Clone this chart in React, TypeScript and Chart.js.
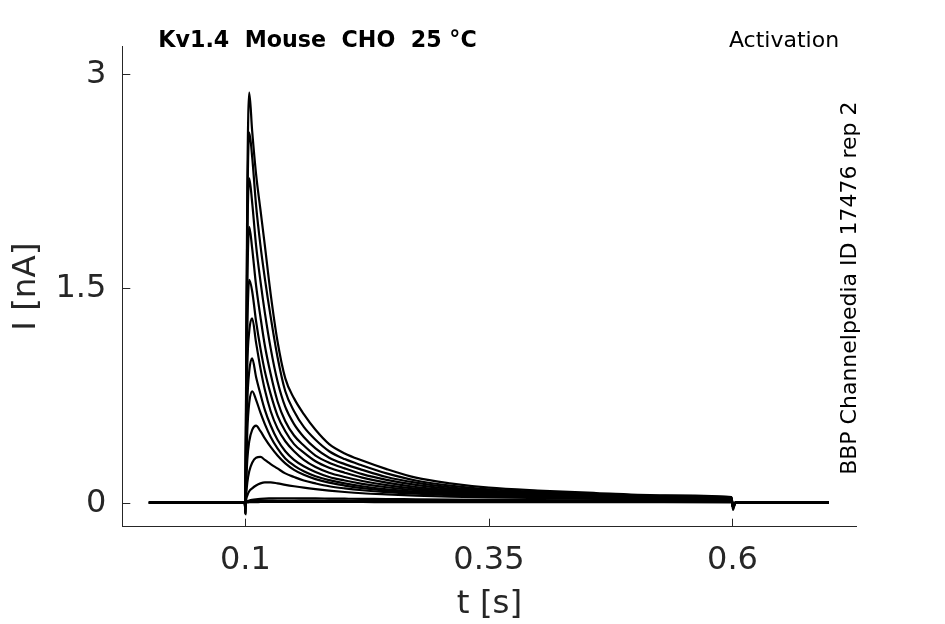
import { useEffect, useRef } from "react";
import { Chart, registerables, type Plugin } from "chart.js";

Chart.register(...registerables);

// sample times (s) shared by every sweep
const timeS = [
  0.001, 0.0995, 0.1, 0.1008, 0.102, 0.104, 0.107, 0.111, 0.1155, 0.12, 0.126,
  0.133, 0.141, 0.15, 0.16, 0.172, 0.186, 0.202, 0.22, 0.245, 0.275, 0.31,
  0.35, 0.4, 0.46, 0.53, 0.599, 0.6005, 0.603, 0.65, 0.699,
];

// current (nA), one array per voltage step
const sweep1 = [0, 0, -0.08, 0.9, 2.2, 2.87, 2.6, 2.3, 2.05, 1.8, 1.46, 1.13, 0.87, 0.73, 0.62, 0.51, 0.41, 0.345, 0.295, 0.235, 0.175, 0.135, 0.105, 0.085, 0.068, 0.052, 0.04, -0.05, 0, 0, 0];
const sweep2 = [0, 0, -0.07, 0.8, 2.0, 2.59, 2.42, 2.08, 1.8, 1.57, 1.3, 1.02, 0.78, 0.64, 0.53, 0.44, 0.36, 0.305, 0.26, 0.205, 0.155, 0.12, 0.094, 0.076, 0.062, 0.048, 0.037, -0.03, 0, 0, 0];
const sweep3 = [0, 0, -0.07, 0.7, 1.8, 2.27, 2.1, 1.8, 1.55, 1.33, 1.08, 0.85, 0.67, 0.55, 0.46, 0.38, 0.315, 0.27, 0.23, 0.18, 0.14, 0.108, 0.085, 0.07, 0.057, 0.045, 0.034, -0.03, 0, 0, 0];
const sweep4 = [0, 0, -0.06, 0.6, 1.5, 1.93, 1.78, 1.52, 1.3, 1.1, 0.9, 0.71, 0.57, 0.47, 0.4, 0.33, 0.28, 0.24, 0.2, 0.16, 0.125, 0.098, 0.078, 0.064, 0.052, 0.042, 0.032, -0.03, 0, 0, 0];
const sweep5 = [0, 0, -0.06, 0.5, 1.2, 1.56, 1.48, 1.27, 1.08, 0.92, 0.76, 0.61, 0.5, 0.41, 0.35, 0.29, 0.245, 0.21, 0.175, 0.14, 0.11, 0.088, 0.071, 0.058, 0.048, 0.039, 0.03, -0.03, 0, 0, 0];
const sweep6 = [0, 0, -0.05, 0.4, 0.95, 1.2, 1.29, 1.12, 0.94, 0.79, 0.64, 0.52, 0.43, 0.36, 0.3, 0.25, 0.21, 0.18, 0.152, 0.123, 0.098, 0.08, 0.065, 0.054, 0.045, 0.036, 0.028, -0.03, 0, 0, 0];
const sweep7 = [0, 0, -0.05, 0.3, 0.7, 0.92, 1.01, 0.88, 0.76, 0.65, 0.54, 0.44, 0.36, 0.3, 0.255, 0.215, 0.18, 0.155, 0.132, 0.108, 0.088, 0.072, 0.06, 0.05, 0.041, 0.034, 0.026, -0.03, 0, 0, 0];
const sweep8 = [0, 0, -0.05, 0.2, 0.5, 0.7, 0.78, 0.72, 0.63, 0.55, 0.46, 0.38, 0.31, 0.26, 0.22, 0.185, 0.158, 0.135, 0.115, 0.094, 0.078, 0.065, 0.054, 0.045, 0.038, 0.031, 0.024, -0.03, 0, 0, 0];
const sweep9 = [0, 0, -0.04, 0.12, 0.3, 0.43, 0.51, 0.54, 0.5, 0.45, 0.39, 0.33, 0.275, 0.23, 0.195, 0.165, 0.14, 0.12, 0.102, 0.085, 0.072, 0.06, 0.05, 0.042, 0.035, 0.029, 0.022, -0.03, 0, 0, 0];
const sweep10 = [0, 0, -0.04, 0.05, 0.14, 0.22, 0.28, 0.315, 0.32, 0.3, 0.27, 0.24, 0.205, 0.18, 0.155, 0.135, 0.115, 0.1, 0.087, 0.074, 0.063, 0.053, 0.045, 0.038, 0.032, 0.026, 0.02, -0.03, 0, 0, 0];
const sweep11 = [0, 0, -0.03, 0.02, 0.05, 0.08, 0.1, 0.12, 0.135, 0.142, 0.142, 0.135, 0.125, 0.115, 0.105, 0.095, 0.085, 0.075, 0.066, 0.058, 0.05, 0.043, 0.037, 0.032, 0.027, 0.022, 0.018, -0.02, 0, 0, 0];
const sweep12 = [0, 0, -0.03, 0.005, 0.01, 0.015, 0.02, 0.024, 0.027, 0.029, 0.03, 0.031, 0.031, 0.031, 0.03, 0.03, 0.029, 0.028, 0.027, 0.026, 0.024, 0.022, 0.02, 0.018, 0.016, 0.014, 0.012, -0.02, 0, 0, 0];
const sweep13 = [0, 0, -0.02, 0.004, 0.008, 0.01, 0.012, 0.013, 0.014, 0.014, 0.015, 0.015, 0.015, 0.015, 0.015, 0.014, 0.014, 0.014, 0.013, 0.013, 0.012, 0.012, 0.011, 0.01, 0.009, 0.008, 0.007, -0.015, 0, 0, 0];
const sweep14 = [0, 0, -0.02, 0, 0.002, 0.003, 0.004, 0.004, 0.005, 0.005, 0.005, 0.005, 0.005, 0.005, 0.005, 0.005, 0.005, 0.005, 0.005, 0.004, 0.004, 0.004, 0.004, 0.003, 0.003, 0.003, 0.002, -0.01, 0, 0, 0];

const sweeps = [
  sweep1, sweep2, sweep3, sweep4, sweep5, sweep6, sweep7,
  sweep8, sweep9, sweep10, sweep11, sweep12, sweep13, sweep14,
];

const xTicks = [0.1, 0.35, 0.6];
const yTicks = [0, 1.5, 3];

const FONT = "DejaVu Sans";
const AXIS = "#262626";

const decorations: Plugin<"line"> = {
  id: "decorations",
  afterDraw(chart) {
    const { ctx, chartArea, scales } = chart;
    ctx.save();

    // inward tick marks
    ctx.strokeStyle = AXIS;
    ctx.lineWidth = 1;
    ctx.beginPath();
    xTicks.forEach((v) => {
      const px = Math.round(scales.x.getPixelForValue(v)) + 0.5;
      ctx.moveTo(px, chartArea.bottom);
      ctx.lineTo(px, chartArea.bottom - 8);
    });
    yTicks.forEach((v) => {
      const py = Math.round(scales.y.getPixelForValue(v)) + 0.5;
      ctx.moveTo(chartArea.left, py);
      ctx.lineTo(chartArea.left + 8, py);
    });
    ctx.stroke();

    // header texts
    ctx.fillStyle = "#000";
    ctx.textBaseline = "alphabetic";
    ctx.font = `bold 22.2px "${FONT}"`;
    ctx.textAlign = "left";
    ctx.fillText("Kv1.4  Mouse  CHO  25 °C", chartArea.left + 36, chartArea.top + 0.6);
    ctx.font = `22px "${FONT}"`;
    ctx.textAlign = "right";
    ctx.fillText("Activation", chartArea.right - 17.6, chartArea.top);

    // vertical source label
    ctx.translate(chartArea.right - 1.2, (chartArea.top + chartArea.bottom) / 2 + 1.5);
    ctx.rotate(-Math.PI / 2);
    ctx.textAlign = "center";
    ctx.fillText("BBP Channelpedia ID 17476 rep 2", 0, 0);

    ctx.restore();
  },
};

export default function App() {
  const canvasRef = useRef<HTMLCanvasElement>(null);
  const chartRef = useRef<Chart<"line"> | null>(null);

  useEffect(() => {
    document.body.style.margin = "0";
    if (!canvasRef.current) return;

    chartRef.current = new Chart(canvasRef.current, {
      type: "line",
      data: {
        datasets: sweeps.map((vals, i) => ({
          label: `sweep ${i + 1}`,
          data: timeS.map((t, j) => ({ x: t, y: vals[j] })),
          borderColor: "#000",
          borderWidth: 2.2,
          pointRadius: 0,
          fill: false,
          cubicInterpolationMode: "monotone" as const,
        })),
      },
      options: {
        animation: false,
        responsive: true,
        maintainAspectRatio: false,
        events: [],
        layout: { padding: { top: 46.7, right: 88.3, left: 0, bottom: 0 } },
        plugins: {
          legend: { display: false },
          tooltip: { enabled: false },
          title: { display: false },
        },
        scales: {
          x: {
            type: "linear",
            min: -0.0263,
            max: 0.7275,
            afterBuildTicks: (s) => {
              s.ticks = xTicks.map((v) => ({ value: v }));
            },
            afterFit: (s) => {
              s.height = 97.3;
            },
            ticks: {
              callback: (v) => String(v),
              font: { family: FONT, size: 32 },
              color: AXIS,
              padding: 15,
              maxRotation: 0,
              autoSkip: false,
            },
            grid: { display: false, drawTicks: false },
            border: { display: true, color: AXIS, width: 1 },
            title: {
              display: true,
              text: "t [s]",
              font: { family: FONT, size: 32.5 },
              color: AXIS,
              padding: { top: 0, bottom: 0 },
            },
          },
          y: {
            type: "linear",
            min: -0.168,
            max: 3.191,
            afterBuildTicks: (s) => {
              s.ticks = yTicks.map((v) => ({ value: v }));
            },
            afterFit: (s) => {
              s.width = 122.3;
            },
            ticks: {
              callback: (v) => String(v),
              font: { family: FONT, size: 32 },
              color: AXIS,
              padding: 16,
              labelOffset: 0.6,
              autoSkip: false,
            },
            grid: { display: false, drawTicks: false },
            border: { display: true, color: AXIS, width: 1 },
            title: {
              display: true,
              text: "I [nA]",
              font: { family: FONT, size: 32.5 },
              color: AXIS,
              padding: { top: 7.4, bottom: 0 },
            },
          },
        },
      },
      plugins: [decorations],
    });

    return () => {
      chartRef.current?.destroy();
    };
  }, []);

  return (
    <div style={{ width: 945, height: 624, position: "relative", background: "#fff" }}>
      <canvas ref={canvasRef} />
    </div>
  );
}
